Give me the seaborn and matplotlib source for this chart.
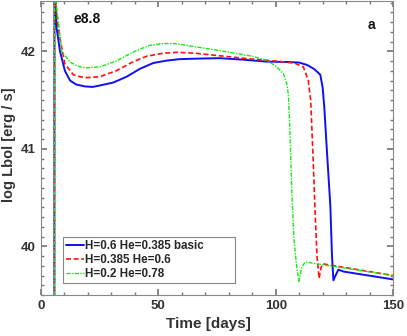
import matplotlib
matplotlib.use("Agg")
import matplotlib.pyplot as plt
from matplotlib.ticker import MultipleLocator
import seaborn as sns
import pandas as pd

sns.set_theme(style="ticks")
plt.rcParams["font.family"] = ["Liberation Sans", "DejaVu Sans"]

t_basic = [5.7, 5.75, 6.2, 6.6, 8.1, 10.2, 12.4, 15.0, 18.7, 22.0, 25.1, 30.8, 36.5, 42.1,
           47.8, 53.5, 59.0, 66.0, 76.0, 86.0, 96.0, 106.0, 110.0, 113.4, 116.3, 117.7,
           119.0, 120.0, 120.7, 121.8, 123.3, 124.0, 124.6, 125.5, 126.7, 129.0, 150.0]
l_basic = [39.0, 43.0, 42.5, 42.25, 42.0, 41.8, 41.7, 41.66, 41.64, 41.635, 41.65, 41.68,
           41.74, 41.82, 41.88, 41.905, 41.92, 41.925, 41.93, 41.915, 41.895, 41.89, 41.885,
           41.86, 41.82, 41.79, 41.76, 41.63, 41.43, 40.99, 40.41, 39.9, 39.65, 39.7, 39.76,
           39.74, 39.66]

t_he06 = [5.7, 5.75, 6.3, 7.0, 8.1, 10.2, 13.8, 16.5, 19.5, 25.1, 32.0, 39.0, 45.0, 52.0,
          58.0, 66.0, 78.0, 90.0, 100.0, 108.0, 111.8, 113.9, 114.9, 115.8, 116.7, 117.6,
          118.5, 119.3, 120.0, 150.0]
l_he06 = [39.0, 43.0, 42.5, 42.3, 42.13, 41.87, 41.76, 41.74, 41.73, 41.74, 41.8, 41.89,
          41.95, 41.98, 41.99, 41.98, 41.95, 41.92, 41.9, 41.88, 41.84, 41.7, 41.5, 40.99,
          40.41, 39.9, 39.67, 39.78, 39.82, 39.70]

t_he078 = [5.7, 5.75, 6.4, 7.4, 8.8, 12.4, 15.5, 18.7, 25.1, 32.0, 39.0, 46.0, 52.0, 57.0,
           65.0, 78.0, 90.0, 96.0, 100.0, 103.3, 104.7, 105.4, 106.1, 106.8, 107.8, 108.9,
           109.9, 111.1, 112.5, 117.6, 150.0]
l_he078 = [39.0, 43.0, 42.5, 42.31, 42.0, 41.89, 41.85, 41.83, 41.84, 41.9, 41.99, 42.06,
           42.08, 42.08, 42.05, 42.0, 41.95, 41.91, 41.85, 41.77, 41.67, 41.56, 41.16, 40.6,
           40.07, 39.8, 39.64, 39.78, 39.84, 39.82, 39.70]

labels = ["H=0.6 He=0.385 basic", "H=0.385 He=0.6", "H=0.2 He=0.78"]

df = pd.concat([
    pd.DataFrame({"t": t_basic, "L": l_basic, "model": labels[0]}),
    pd.DataFrame({"t": t_he06, "L": l_he06, "model": labels[1]}),
    pd.DataFrame({"t": t_he078, "L": l_he078, "model": labels[2]}),
])

fig = plt.figure(figsize=(4.07, 3.36), dpi=100)
ax = fig.add_axes([0.1007, 0.122, 0.865, 0.876])

palette = {labels[0]: "#1010f0", labels[1]: "#ff1010", labels[2]: "#10ee10"}
styles = {labels[0]: (None, 1.4), labels[1]: ((3, 1.6), 1.2), labels[2]: ((3, 1, 1, 1), 1.0)}

for name in labels:
    sub = df[df["model"] == name]
    dash, lw = styles[name]
    sns.lineplot(x="t", y="L", data=sub, sort=False, estimator=None,
                 color=palette[name], linewidth=lw, label=name, ax=ax)
    if dash is not None:
        ax.lines[-1].set_dashes(dash)

ax.set_xlim(0, 150)
ax.set_ylim(39.5, 42.52)
ax.xaxis.set_major_locator(MultipleLocator(50))
ax.xaxis.set_minor_locator(MultipleLocator(10))
ax.yaxis.set_major_locator(MultipleLocator(1))
ax.yaxis.set_minor_locator(MultipleLocator(0.1))
ax.tick_params(which="both", direction="in", top=True, right=True, colors="#777777",
               labelcolor="#333333", labelsize=9.5)
ax.tick_params(which="major", length=4)
ax.tick_params(which="minor", length=2.5)
for lbl in ax.get_xticklabels() + ax.get_yticklabels():
    lbl.set_fontweight("bold")
for sp in ax.spines.values():
    sp.set_color("#888888")
    sp.set_linewidth(0.8)

ax.set_xlabel("Time [days]", fontsize=11, fontweight="bold", color="#333333")
ax.set_ylabel("log Lbol [erg / s]", fontsize=10.5, fontweight="bold", color="#333333")
ax.xaxis.set_label_coords(0.477, -0.075)
ax.yaxis.set_label_coords(-0.07, 0.51)

ax.text(19.5, 42.336, "e8.8", fontsize=10, fontweight="bold", color="#111111",
        ha="center", va="center")
ax.text(140.7, 42.27, "a", fontsize=10, fontweight="bold", color="#111111",
        ha="center", va="center")

leg = ax.legend(loc="lower left", bbox_to_anchor=(0.0616, 0.040, 0.489, 0.147),
                mode="expand", borderaxespad=0, prop={"weight": "bold", "size": 8.4},
                handlelength=1.55, handletextpad=0.15, borderpad=0.25,
                labelspacing=0.2, fancybox=False, framealpha=1, edgecolor="#888888")
leg.get_frame().set_linewidth(0.8)

plt.savefig("out.png", dpi=100)
